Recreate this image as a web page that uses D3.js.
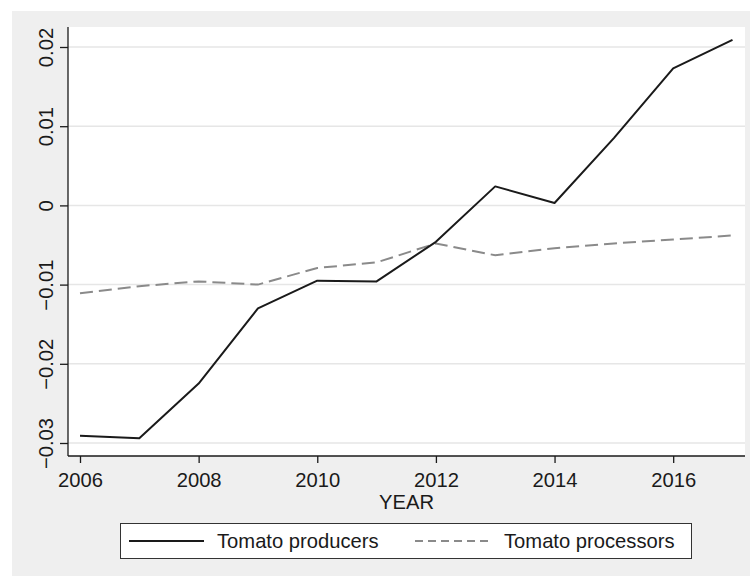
<!DOCTYPE html>
<html>
<head>
<meta charset="utf-8">
<script src="https://cdn.jsdelivr.net/npm/d3@7"></script>
<style>
  html, body { margin: 0; padding: 0; background: #ffffff; }
  svg { display: block; font-family: "Liberation Sans", Arial, sans-serif; }
</style>
</head>
<body>
<svg id="chart" width="750" height="576"></svg>
<script>
// Years on the x axis
const years = [2006, 2007, 2008, 2009, 2010, 2011, 2012, 2013, 2014, 2015, 2016, 2017];

// Series values by year
const producers = [-0.0291, -0.0294, -0.0225, -0.0130, -0.0095, -0.0096, -0.0046, 0.0024, 0.0003, 0.0085, 0.0173, 0.0209];
const processors = [-0.0111, -0.0102, -0.0096, -0.0100, -0.0079, -0.0072, -0.0048, -0.0063, -0.0054, -0.0048, -0.0043, -0.0038];

// Axis ticks
const xTicks = [2006, 2008, 2010, 2012, 2014, 2016];
const yTicks = [-0.03, -0.02, -0.01, 0, 0.01, 0.02];

const seriesNames = ["Tomato producers", "Tomato processors"];
const xTitle = "YEAR";

const FONT = 20.2;
const svg = d3.select("#chart");
const W = 750, H = 576;

// Outer graph region
svg.append("rect").attr("x", 12).attr("y", 11).attr("width", W - 12).attr("height", H - 11)
  .attr("fill", "#efefef");

// Plot region
const plot = { left: 68, right: 745, top: 27, bottom: 456 };
svg.append("rect").attr("x", plot.left).attr("y", plot.top)
  .attr("width", plot.right - plot.left).attr("height", plot.bottom - plot.top)
  .attr("fill", "#ffffff");

const x = d3.scaleLinear().domain([2006, 2017]).range([80, 732.5]);
const y = d3.scaleLinear().domain([-0.03, 0.02]).range([443, 47]);

const fmtY = v => {
  if (v === 0) return "0";
  const s = d3.format(".2f")(Math.abs(v));
  return (v < 0 ? "\u2212" : "") + s;
};

// Horizontal grid lines
svg.append("g").selectAll("line").data(yTicks).join("line")
  .attr("x1", plot.left).attr("x2", plot.right)
  .attr("y1", d => y(d)).attr("y2", d => y(d))
  .attr("stroke", "#e6e6e6").attr("stroke-width", 1.5);

// Y axis
const yAxis = svg.append("g").attr("transform", `translate(${plot.left},0)`)
  .call(d3.axisLeft(y).tickValues(yTicks).tickSize(8).tickSizeOuter(0).tickFormat(fmtY));
yAxis.select(".domain").attr("d", `M0,${plot.top}V${plot.bottom}`).attr("stroke", "#1a1a1a").attr("stroke-width", 1.3);
yAxis.selectAll(".tick line").attr("stroke", "#1a1a1a").attr("stroke-width", 1.3);
yAxis.selectAll(".tick text")
  .attr("x", 0).attr("y", 0).attr("dy", null)
  .attr("transform", "translate(-15,0) rotate(-90)")
  .attr("text-anchor", "middle")
  .attr("font-size", FONT).attr("fill", "#1a1a1a")
  .attr("font-family", "'Liberation Sans', Arial, sans-serif");

// X axis
const xAxis = svg.append("g").attr("transform", `translate(0,${plot.bottom})`)
  .call(d3.axisBottom(x).tickValues(xTicks).tickSize(7).tickSizeOuter(0).tickFormat(d3.format("d")));
xAxis.select(".domain").attr("d", `M${plot.left},0H${plot.right}`).attr("stroke", "#1a1a1a").attr("stroke-width", 1.3);
xAxis.selectAll(".tick line").attr("stroke", "#1a1a1a").attr("stroke-width", 1.3);
xAxis.selectAll(".tick text")
  .attr("y", 31).attr("dy", null)
  .attr("font-size", FONT).attr("fill", "#1a1a1a")
  .attr("font-family", "'Liberation Sans', Arial, sans-serif");

// Axis title
svg.append("text").attr("x", (plot.left + plot.right) / 2).attr("y", 509)
  .attr("text-anchor", "middle").attr("font-size", FONT).attr("fill", "#1a1a1a")
  .text(xTitle);

// Lines
const line = d3.line().x((d, i) => x(years[i])).y(d => y(d));

svg.append("path").datum(processors).attr("d", line)
  .attr("fill", "none").attr("stroke", "#8a8a8a").attr("stroke-width", 2)
  .attr("stroke-dasharray", "13,6");

svg.append("path").datum(producers).attr("d", line)
  .attr("fill", "none").attr("stroke", "#1a1a1a").attr("stroke-width", 2)
  .attr("stroke-linejoin", "round");

// Legend
const lg = svg.append("g");
lg.append("rect").attr("x", 120.5).attr("y", 523.5).attr("width", 571).attr("height", 35)
  .attr("fill", "#ffffff").attr("stroke", "#333333").attr("stroke-width", 1);

const legendItems = [
  { name: seriesNames[0], x0: 129, x1: 204, tx: 217, color: "#1a1a1a", dash: null },
  { name: seriesNames[1], x0: 415, x1: 490, tx: 504, color: "#8a8a8a", dash: "8,5" }
];
legendItems.forEach(it => {
  lg.append("line").attr("x1", it.x0).attr("x2", it.x1).attr("y1", 541).attr("y2", 541)
    .attr("stroke", it.color).attr("stroke-width", 2)
    .attr("stroke-dasharray", it.dash);
  lg.append("text").attr("x", it.tx).attr("y", 548).attr("font-size", FONT).attr("fill", "#1a1a1a")
    .text(it.name);
});
</script>
</body>
</html>
